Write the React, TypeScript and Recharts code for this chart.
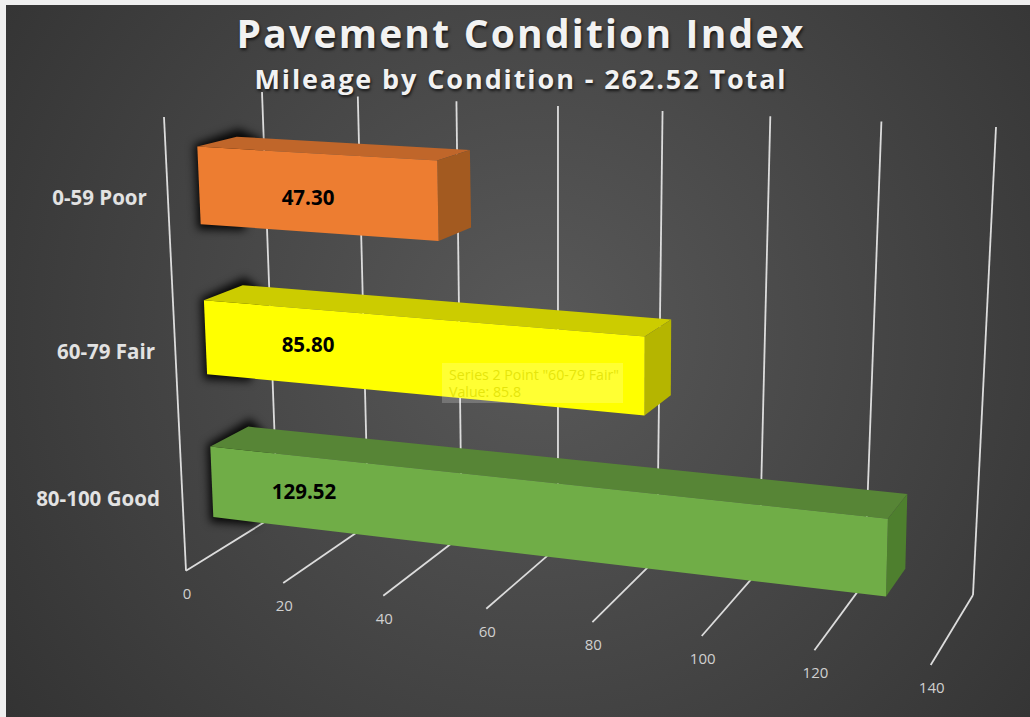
import React from 'react';
import { BarChart, Bar, XAxis, YAxis, CartesianGrid, LabelList } from 'recharts';

const categories = ['0-59 Poor', '60-79 Fair', '80-100 Good'];
const mileage = [47.3, 85.8, 129.52];
const valueTicks = [0, 20, 40, 60, 80, 100, 120, 140];
const faceFront = ['#ED7D31', '#FFFF00', '#70AD47'];
const faceTop = ['#C0662A', '#CCCC00', '#578536'];
const faceSide = ['#A35A20', '#B5B500', '#4E7F2E'];
const titleText = 'Pavement Condition Index';
const subtitleText = 'Mileage by Condition - 262.52 Total';
const ghostLines = ['Series 2 Point "60-79 Fair"', 'Value: 85.8'];

const chartData = categories.map((category, i) => ({ category, miles: mileage[i] }));

// Flat plot box used by the library's scales
const W = 1030, H = 717;
const AXIS_W = 100, AXIS_H = 30;
const PLOT = { top: 100, right: 100, left: 200, bottom: 100 };
const M = { top: PLOT.top, right: PLOT.right, left: PLOT.left - AXIS_W, bottom: PLOT.bottom - AXIS_H };
const PW = W - PLOT.left - PLOT.right, PH = H - PLOT.top - PLOT.bottom;
const MAX = 140;

type Pt = [number, number];
const lerp = (a: Pt, b: Pt, k: number): Pt => [a[0] + (b[0] - a[0]) * k, a[1] + (b[1] - a[1]) * k];
const sOf = (v: number) => { const w = v / MAX; return w === 0 ? 0 : w / (w + 1.11 * (1 - w)); };
const tOf = (t: number) => (t <= 0 ? 0 : t / (t + 0.93 * (1 - t)));
const vFromX = (x: number) => ((x - PLOT.left) / PW) * MAX;
const tFromY = (y: number) => (y - PLOT.top) / PH;

// Perspective corners of the bar planes: [left-top, left-bottom, right-top, right-bottom]
const FRONT_PLANE: Pt[] = [[195.6, 107], [214.8, 551.9], [960.3, 146.7], [945.2, 642.5]];
const BACK_PLANE: Pt[] = [[235.2, 98.4], [252.4, 528.4], [978.4, 136.6], [962.8, 612.6]];
const plane = (P: Pt[], v: number, t: number): Pt => {
  const tt = tOf(t);
  return lerp(lerp(P[0], P[1], tt), lerp(P[2], P[3], tt), sOf(v));
};

// Walls and floor
const WALL_TOP: Pt[] = [[262, 92], [996, 127]];
const WALL_BOTTOM: Pt[] = [[277.5, 514], [973, 595]];
const FLOOR_FRONT: Pt[] = [[186, 570.7], [930.7, 665]];
const EDGE_TOP: Pt = [164, 117];

const poly = (pts: Pt[]) => pts.map((p) => `${p[0].toFixed(1)},${p[1].toFixed(1)}`).join(' ');
const LINE = '#dcdcdc';

const Seg = ({ a, b }: { a: Pt; b: Pt }) => (
  <line x1={a[0]} y1={a[1]} x2={b[0]} y2={b[1]} stroke={LINE} strokeWidth={1.8} />
);

const GridLine = (props: any) => {
  const v = vFromX(props.x1);
  const s = sOf(v);
  const top = lerp(WALL_TOP[0], WALL_TOP[1], s);
  const bottom = lerp(WALL_BOTTOM[0], WALL_BOTTOM[1], s);
  const front = lerp(FLOOR_FRONT[0], FLOOR_FRONT[1], s);
  return (
    <g key={`grid-${v}`}>
      <Seg a={top} b={bottom} />
      <Seg a={front} b={bottom} />
      {v < 0.01 && <Seg a={EDGE_TOP} b={front} />}
    </g>
  );
};

const Bar3D = (props: any) => {
  const { x, y, width, height, index } = props;
  const v = vFromX(x + width);
  const t0 = tFromY(y), t1 = tFromY(y + height);
  const fTL = plane(FRONT_PLANE, 0, t0), fBL = plane(FRONT_PLANE, 0, t1);
  const fTR = plane(FRONT_PLANE, v, t0), fBR = plane(FRONT_PLANE, v, t1);
  const bTL = plane(BACK_PLANE, 0, t0), bTR = plane(BACK_PLANE, v, t0), bBR = plane(BACK_PLANE, v, t1);
  const sTR = plane(FRONT_PLANE, 9, t0), sBR = plane(FRONT_PLANE, 9, t1);
  return (
    <g>
      <polygon
        points={poly([[fTL[0] - 3, fTL[1] - 2], [bTL[0] + 2, bTL[1] - 8], [sTR[0] + 20, sTR[1] - 10], [sBR[0], sBR[1] + 3], [fBL[0] - 3, fBL[1] + 5]])}
        fill="#000"
        fillOpacity={0.9}
        style={{ filter: 'blur(4px)' }}
      />
      <polygon points={poly([fTL, bTL, bTR, fTR])} fill={faceTop[index]} />
      <polygon points={poly([fTR, bTR, bBR, fBR])} fill={faceSide[index]} />
      <polygon points={poly([fTL, fTR, fBR, fBL])} fill={faceFront[index]} />
    </g>
  );
};

const LABEL_CENTER = [308, 308, 304];
const LABEL_Y = [11, 7, 9];

const ValueLabel = (props: any) => {
  const { y, height, value, index } = props;
  const c = plane(FRONT_PLANE, 0, tFromY(y + height / 2));
  return (
    <text
      x={LABEL_CENTER[index]}
      y={c[1] + LABEL_Y[index] + 8}
      textAnchor="middle"
      fontFamily="'Open Sans', sans-serif"
      fontWeight={700}
      fontSize={20.5}
      fill="#000"
    >
      {Number(value).toFixed(2)}
    </text>
  );
};

const ValueTick = (props: any) => {
  const { payload } = props;
  const p = lerp(FLOOR_FRONT[0], FLOOR_FRONT[1], sOf(payload.value));
  return (
    <text x={p[0] + 1} y={p[1] + 28} textAnchor="middle" fontFamily="'Open Sans', sans-serif" fontSize={15} fill="#d0d0d0">
      {payload.value}
    </text>
  );
};

const TICK_X = [99.5, 106, 98];
const CategoryTick = (props: any) => {
  const { y, payload, index } = props;
  const t = tFromY(y);
  const p = plane(FRONT_PLANE, 0, t);
  return (
    <text x={TICK_X[index]} y={p[1] + 12 + 7 * t + 6} textAnchor="middle" fontFamily="'Open Sans', sans-serif" fontWeight={700} fontSize={20.5} fill="#e2e2e2">
      {payload.value}
    </text>
  );
};

const headStyle: React.CSSProperties = {
  position: 'absolute', left: 6, width: W, textAlign: 'center', color: '#f2f2f2',
  fontFamily: "'Open Sans', sans-serif", fontWeight: 700, whiteSpace: 'nowrap',
  textShadow: '1px 2px 3px rgba(0,0,0,0.7)',
};

export default function App() {
  return (
    <div style={{ position: 'absolute', left: 0, top: 0, width: W, height: H, overflow: 'hidden', background: '#efefef' }}>
      <div style={{ position: 'absolute', left: 6, top: 5, right: 0, bottom: 0, background: 'radial-gradient(circle farthest-corner at 52% 46%, #595959 0%, #333333 100%)' }} />
      <div style={{ position: 'absolute', left: 0, top: 0 }}>
        <BarChart width={W} height={H} data={chartData} layout="vertical" margin={M} barCategoryGap="25%">
          <CartesianGrid horizontal={false} vertical={GridLine as any} />
          <XAxis type="number" domain={[0, MAX]} ticks={valueTicks} interval={0} height={AXIS_H} axisLine={false} tickLine={false} tick={ValueTick as any} />
          <YAxis type="category" dataKey="category" width={AXIS_W} interval={0} axisLine={false} tickLine={false} tick={CategoryTick as any} />
          <Bar dataKey="miles" isAnimationActive={false} shape={Bar3D as any}>
            <LabelList dataKey="miles" content={ValueLabel as any} />
          </Bar>
        </BarChart>
      </div>
      <div style={{ ...headStyle, top: 8, fontSize: 39, letterSpacing: 2.2, lineHeight: '50px' }}>{titleText}</div>
      <div style={{ ...headStyle, top: 61, fontSize: 27, letterSpacing: 1.9, lineHeight: '36px' }}>{subtitleText}</div>
      <div style={{ position: 'absolute', left: 442, top: 363, width: 181, height: 40, background: 'rgba(255,255,255,0.2)', boxSizing: 'border-box', padding: '3px 7px', color: 'rgba(222,222,0,0.8)', fontFamily: "'Open Sans', sans-serif", fontSize: 14.2, lineHeight: '17px', whiteSpace: 'nowrap' }}>
        {ghostLines.map((l) => <div key={l}>{l}</div>)}
      </div>
    </div>
  );
}
